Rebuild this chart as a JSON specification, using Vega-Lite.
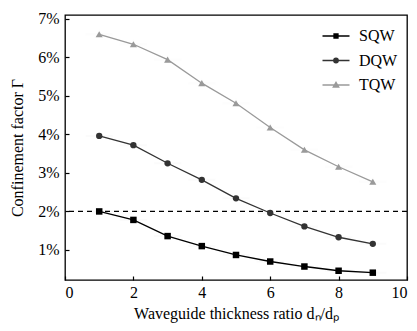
{
  "$schema": "https://vega.github.io/schema/vega-lite/v6.json",
  "width": 342,
  "height": 265,
  "autosize": "none",
  "padding": {"left": 65, "top": 15, "right": 10, "bottom": 51},
  "background": "white",
  "config": {
    "view": {"stroke": "#000", "strokeWidth": 1.3},
    "font": "Liberation Serif",
    "legend": {"labelFont": "Liberation Serif", "title": null, "orient": "none", "legendX": 263, "legendY": 13, "padding": 0,
            "symbolSize": 100, "symbolOpacity": 1, "symbolStrokeWidth": 1.3,
            "labelOffset": 15, "labelFontSize": 16, "labelColor": "#000", "rowPadding": 8.5},
    "axis": {
      "grid": false,
      "domain": false,
      "tickColor": "#000",
      "tickSize": -4,
      "tickWidth": 1.2,
      "labelColor": "#000",
      "labelFontSize": 16,
      "titleFont": "Liberation Serif",
      "titleFontSize": 16,
      "titleFontWeight": "normal",
      "titleColor": "#000"
    }
  },
  "datasets": {
    "series": [
      {"ratio": 1, "gamma": 2.0, "series": "SQW"},
      {"ratio": 2, "gamma": 1.78, "series": "SQW"},
      {"ratio": 3, "gamma": 1.36, "series": "SQW"},
      {"ratio": 4, "gamma": 1.1, "series": "SQW"},
      {"ratio": 5, "gamma": 0.87, "series": "SQW"},
      {"ratio": 6, "gamma": 0.7, "series": "SQW"},
      {"ratio": 7, "gamma": 0.57, "series": "SQW"},
      {"ratio": 8, "gamma": 0.46, "series": "SQW"},
      {"ratio": 9, "gamma": 0.41, "series": "SQW"},
      {"ratio": 1, "gamma": 3.96, "series": "DQW"},
      {"ratio": 2, "gamma": 3.72, "series": "DQW"},
      {"ratio": 3, "gamma": 3.25, "series": "DQW"},
      {"ratio": 4, "gamma": 2.82, "series": "DQW"},
      {"ratio": 5, "gamma": 2.34, "series": "DQW"},
      {"ratio": 6, "gamma": 1.96, "series": "DQW"},
      {"ratio": 7, "gamma": 1.61, "series": "DQW"},
      {"ratio": 8, "gamma": 1.33, "series": "DQW"},
      {"ratio": 9, "gamma": 1.16, "series": "DQW"},
      {"ratio": 1, "gamma": 6.6, "series": "TQW"},
      {"ratio": 2, "gamma": 6.34, "series": "TQW"},
      {"ratio": 3, "gamma": 5.94, "series": "TQW"},
      {"ratio": 4, "gamma": 5.33, "series": "TQW"},
      {"ratio": 5, "gamma": 4.81, "series": "TQW"},
      {"ratio": 6, "gamma": 4.18, "series": "TQW"},
      {"ratio": 7, "gamma": 3.6, "series": "TQW"},
      {"ratio": 8, "gamma": 3.16, "series": "TQW"},
      {"ratio": 9, "gamma": 2.77, "series": "TQW"}
    ],
    "ref": [{"level": 2}]
  },
  "layer": [
    {
      "data": {"name": "ref"},
      "mark": {"type": "rule", "color": "#000", "strokeDash": [5, 4], "strokeWidth": 1.2},
      "encoding": {
        "y": {"field": "level", "type": "quantitative", "scale": {"domain": [0.22, 7.1], "nice": false, "zero": false}}
      }
    },
    {
      "data": {"name": "series"},
      "mark": {"type": "line", "strokeWidth": 1.3},
      "encoding": {
        "x": {
          "field": "ratio", "type": "quantitative",
          "scale": {"domain": [0, 10], "nice": false},
          "axis": {"values": [0, 2, 4, 6, 8, 10], "labelFont": "Times New Roman", "labelPadding": 8, "title": "Waveguide thickness ratio dₙ/dₚ", "titlePadding": 5}
        },
        "y": {
          "field": "gamma", "type": "quantitative",
          "scale": {"domain": [0.22, 7.1], "nice": false, "zero": false},
          "axis": {"values": [1, 2, 3, 4, 5, 6, 7], "labelFont": "serif", "labelExpr": "datum.value + '%'", "labelPadding": 10, "title": "Confinement factor Γ", "titlePadding": 12}
        },
        "stroke": {
          "field": "series", "type": "nominal",
          "scale": {"domain": ["SQW", "DQW", "TQW"], "range": ["#000000", "#333333", "#9a9a9a"]}
        }
      }
    },
    {
      "data": {"name": "series"},
      "transform": [{"filter": "datum.series === 'SQW'"}],
      "mark": {"type": "point", "shape": "square", "filled": true, "color": "#000000", "opacity": 1, "size": 42},
      "encoding": {
        "x": {"field": "ratio", "type": "quantitative"},
        "y": {"field": "gamma", "type": "quantitative"}
      }
    },
    {
      "data": {"name": "series"},
      "transform": [{"filter": "datum.series === 'DQW'"}],
      "mark": {"type": "point", "shape": "circle", "filled": true, "color": "#333333", "opacity": 1, "size": 40},
      "encoding": {
        "x": {"field": "ratio", "type": "quantitative"},
        "y": {"field": "gamma", "type": "quantitative"}
      }
    },
    {
      "data": {"name": "series"},
      "transform": [{"filter": "datum.series === 'TQW'"}],
      "mark": {"type": "point", "shape": "triangle-up", "filled": true, "color": "#9a9a9a", "opacity": 1, "size": 50},
      "encoding": {
        "x": {"field": "ratio", "type": "quantitative"},
        "y": {"field": "gamma", "type": "quantitative"}
      }
    },
    {
      "data": {"name": "series"},
      "mark": {"type": "point", "filled": true, "opacity": 0.01, "size": 100},
      "encoding": {
        "x": {"field": "ratio", "type": "quantitative"},
        "y": {"field": "gamma", "type": "quantitative"},
        "fill": {
          "field": "series", "type": "nominal",
          "scale": {"domain": ["SQW", "DQW", "TQW"], "range": ["#000000", "#333333", "#9a9a9a"]}
        },
        "stroke": {"field": "series", "type": "nominal"},
        "shape": {
          "field": "series", "type": "nominal",
          "scale": {
            "domain": ["SQW", "DQW", "TQW"],
            "range": [
              "M-2.7,0H2.7M-0.4,-0.4H0.4V0.4H-0.4Z",
              "M-2.7,0H2.7M0.45,0A0.45,0.45,0,1,1,-0.45,0A0.45,0.45,0,1,1,0.45,0Z",
              "M-2.7,0H2.7M0,-0.55L0.55,0.4H-0.55Z"
            ]
          }
        }
      }
    }
  ]
}
